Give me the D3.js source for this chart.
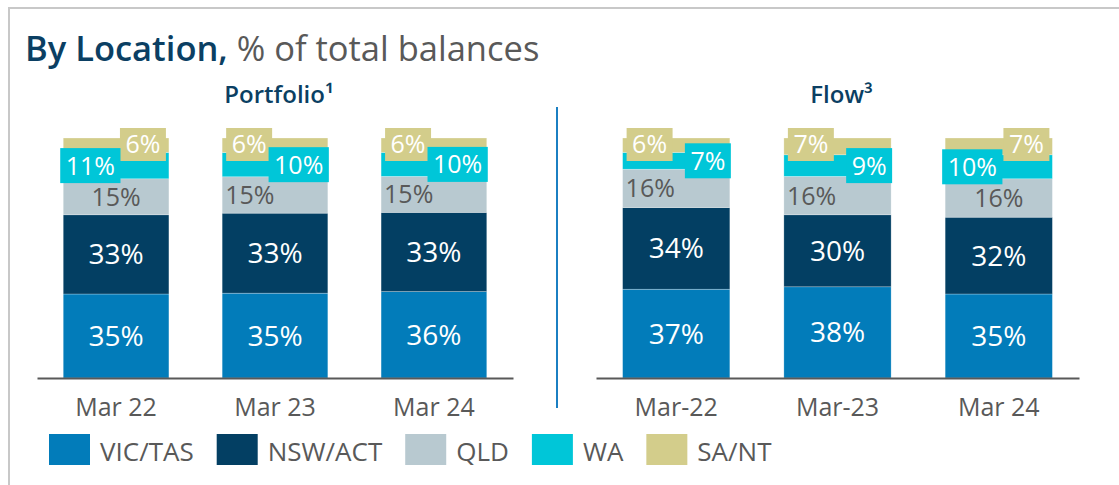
<!DOCTYPE html>
<html>
<head>
<meta charset="utf-8">
<script src="https://cdn.jsdelivr.net/npm/d3@7/dist/d3.min.js"></script>
<style>
html, body {
  margin: 0;
  padding: 0;
  background-color: white;
}
svg text {
  font-family: "Open Sans", "Noto Sans", sans-serif;
}
.axis path {
  stroke: #595959;
  stroke-width: 2;
}
.axis text {
  font-size: 25px;
  fill: #595959;
}
</style>
</head>
<body>
<script>
const regions = ["VIC/TAS", "NSW/ACT", "QLD", "WA", "SA/NT"];
const colours = ["#027cba", "#033f63", "#b8c9d0", "#00c6d8", "#d3cd8b"];

const portfolioPeriods = ["Mar 22", "Mar 23", "Mar 24"];
const portfolioVic = [35, 35, 36];
const portfolioNsw = [33, 33, 33];
const portfolioQld = [15, 15, 15];
const portfolioWa = [11, 10, 10];
const portfolioSant = [6, 6, 6];
// which side of the bar the WA label sits on (SA/NT goes opposite)
const portfolioWaSide = ["left", "right", "right"];

const flowPeriods = ["Mar-22", "Mar-23", "Mar 24"];
const flowVic = [37, 38, 35];
const flowNsw = [34, 30, 32];
const flowQld = [16, 16, 16];
const flowWa = [7, 9, 10];
const flowSant = [6, 7, 7];
const flowWaSide = ["right", "right", "left"];

const W = 1119, H = 485;
const svg = d3.select("body").append("svg")
  .attr("width", W)
  .attr("height", H);

// frame: only top and left edges show
svg.append("path")
  .attr("d", `M9,${H} V8 H${W}`)
  .attr("fill", "none")
  .attr("stroke", "#c8c8c8")
  .attr("stroke-width", 2);

const title = svg.append("text")
  .attr("x", 25)
  .attr("y", 61)
  .attr("font-size", 34.5);
title.append("tspan").attr("font-weight", 600).attr("fill", "#0b3f63").text("By Location,");
title.append("tspan").attr("fill", "#595959").text(" % of total balances");

const y = d3.scaleLinear().domain([0, 1]).range([378, 138]);

// divider between the two panels
svg.append("line")
  .attr("x1", 557).attr("x2", 557)
  .attr("y1", 107).attr("y2", 408)
  .attr("stroke", "#1b7fc2")
  .attr("stroke-width", 2);

function panel(name, periods, series, waSide, range) {
  const rows = periods.map((p, i) => {
    const r = {period: p, waSide: waSide[i]};
    regions.forEach((k, j) => r[k] = series[j][i]);
    return r;
  });

  const x = d3.scaleBand()
    .domain(periods)
    .range(range)
    .paddingInner(0.335)
    .paddingOuter(0.165);

  const stacked = d3.stack()
    .keys(regions)
    .offset(d3.stackOffsetExpand)(rows);

  const g = svg.append("g");

  g.selectAll("g.layer")
    .data(stacked)
    .join("g")
    .attr("class", "layer")
    .attr("fill", (d, i) => colours[i])
    .selectAll("rect")
    .data(d => d)
    .join("rect")
    .attr("x", d => x(d.data.period))
    .attr("width", x.bandwidth())
    .attr("y", d => y(d[1]))
    .attr("height", d => y(d[0]) - y(d[1]))
    .attr("stroke", "rgba(255,255,255,0.45)")
    .attr("stroke-width", 0.6);

  const axis = d3.axisBottom(x).tickSize(0).tickSizeOuter(0);
  const ax = g.append("g")
    .attr("class", "axis")
    .attr("transform", "translate(0,378)")
    .call(axis);
  ax.selectAll("text").attr("y", 38).attr("dy", null);

  // header
  g.append("text")
    .attr("x", (range[0] + range[1]) / 2 + 4)
    .attr("y", 103)
    .attr("text-anchor", "middle")
    .attr("font-size", 24)
    .attr("font-weight", 600)
    .attr("fill", "#0b3f63")
    .text(name);

  const mid = (d) => (y(d[0]) + y(d[1])) / 2;

  // VIC/TAS and NSW/ACT labels
  [0, 1].forEach(li => {
    g.selectAll(null)
      .data(stacked[li])
      .join("text")
      .attr("x", d => x(d.data.period) + x.bandwidth() / 2)
      .attr("y", d => mid(d) + 0.357 * 28)
      .attr("text-anchor", "middle")
      .attr("font-size", 28)
      .attr("fill", "white")
      .text(d => d.data[regions[li]] + "%");
  });

  // QLD labels
  g.selectAll(null)
    .data(stacked[2])
    .join("text")
    .attr("x", d => d.data.waSide === "left"
      ? x(d.data.period) + x.bandwidth() / 2
      : x(d.data.period) + 3)
    .attr("y", d => mid(d) + 0.357 * 25)
    .attr("text-anchor", d => d.data.waSide === "left" ? "middle" : "start")
    .attr("font-size", 25)
    .attr("fill", "#595959")
    .text(d => d.data.QLD + "%");

  // boxed labels for SA/NT then WA
  function boxed(li, place) {
    const grp = g.selectAll(null)
      .data(stacked[li])
      .join("g");
    grp.append("rect").attr("fill", colours[li]);
    grp.append("text")
      .attr("font-size", 25)
      .attr("fill", "white")
      .attr("text-anchor", "middle")
      .text(d => d.data[regions[li]] + "%");
    grp.each(function (d) {
      const t = d3.select(this).select("text");
      const w = t.node().getComputedTextLength() + 11;
      const b = place(d, w);
      d3.select(this).select("rect")
        .attr("x", b.x).attr("y", b.y)
        .attr("width", w).attr("height", b.h);
      t.attr("x", b.x + w / 2).attr("y", b.y + b.h / 2 + 0.357 * 25);
    });
  }

  boxed(4, (d, w) => {
    const left = x(d.data.period), right = left + x.bandwidth();
    const onRight = d.data.waSide === "left";
    return {
      x: onRight ? right - 3 - w : left + 4,
      y: y(d[1]) - 10,
      h: 33
    };
  });

  boxed(3, (d, w) => {
    const left = x(d.data.period), right = left + x.bandwidth();
    const onLeft = d.data.waSide === "left";
    return {
      x: onLeft ? left - 3 : right + 1 - w,
      y: mid(d) - 17.5,
      h: 35
    };
  });
}

panel("Portfolio¹", portfolioPeriods,
  [portfolioVic, portfolioNsw, portfolioQld, portfolioWa, portfolioSant],
  portfolioWaSide, [37, 513]);

panel("Flow³", flowPeriods,
  [flowVic, flowNsw, flowQld, flowWa, flowSant],
  flowWaSide, [596, 1079]);

// legend
const legend = svg.append("g");
let lx = 49;
regions.forEach((r, i) => {
  legend.append("rect")
    .attr("x", lx).attr("y", 434)
    .attr("width", 41).attr("height", 31)
    .attr("fill", colours[i]);
  const t = legend.append("text")
    .attr("x", lx + 51)
    .attr("y", 461)
    .attr("font-size", 26)
    .attr("fill", "#595959")
    .text(r);
  lx += 51 + t.node().getComputedTextLength() + 23;
});
</script>
</body>
</html>
